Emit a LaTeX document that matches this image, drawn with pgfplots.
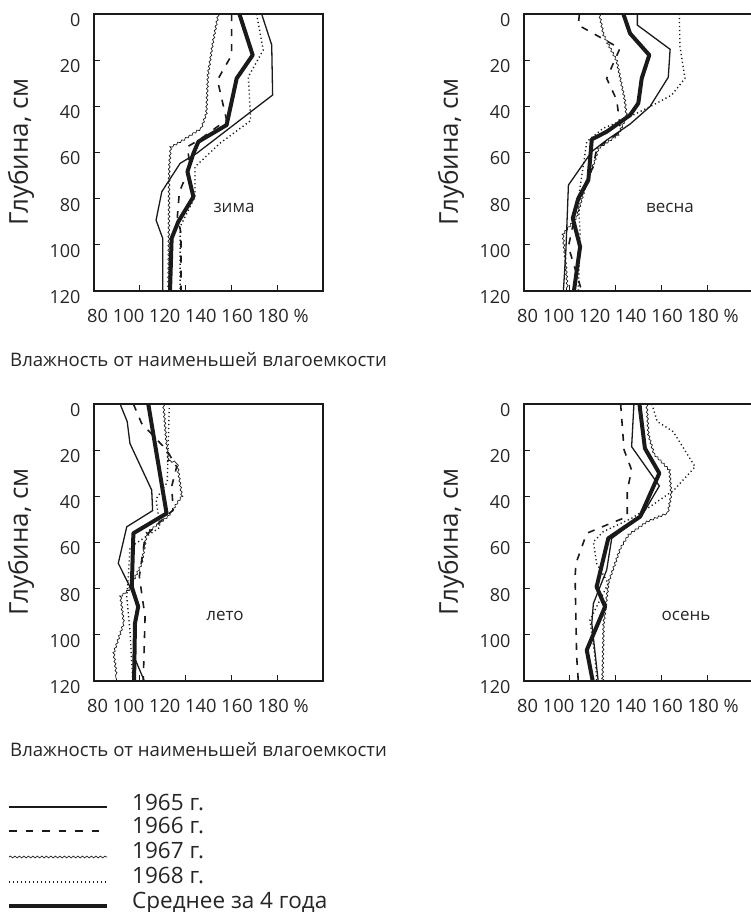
\documentclass[border=0pt]{standalone}
\usepackage{fontspec}
\setmainfont{Open Sans}
\usepackage{pgfplots}
\pgfplotsset{compat=1.18}
\usetikzlibrary{decorations.pathmorphing}

\definecolor{ink}{HTML}{1A1A1A}
\definecolor{txt}{HTML}{262626}

\tikzset{
  y65/.style={ink, line width=1.3pt},
  y66/.style={ink, line width=1.6pt, dash pattern=on 7pt off 8pt},
  y67/.style={ink, line width=0.7pt, decorate, decoration={snake, amplitude=0.9pt, segment length=4.5pt}},
  y68/.style={ink, line width=1.4pt, dash pattern=on 1.2pt off 2.8pt},
  ymean/.style={ink, line width=4pt, line join=round},
}

\pgfplotsset{
  panel/.style={
    scale only axis, width=229pt, height=277pt,
    xmin=80, xmax=180, ymin=0, ymax=120, y dir=reverse,
    xtick={100,120,140,160}, xticklabels={},
    ytick={0,20,40,60,80,100,120},
    tick align=inside, tick pos=left,
    major tick length=6pt,
    tick style={ink, line width=0.9pt},
    axis line style={ink, line width=2pt},
    /pgf/number format/assume math mode=true,
    yticklabel style={font=\fontsize{18}{20}\selectfont, text=txt, xshift=-10pt, yshift=-6pt},
    anchor=north west,
  },
}

\newcommand{\ticktext}{80 100 120 140 160 180 \%}
\newcommand{\depth}{Глубина, см}
\newcommand{\moist}{Влажность от наименьшей влагоемкости}

\begin{document}
\begin{tikzpicture}
\useasboundingbox (0,0) rectangle (751pt,-912pt);

% зима
\begin{axis}[panel, at={(94pt,-14pt)}]
\addplot[y65] coordinates {(153.2,0)(157.6,13.4)(158.0,35.1)(124.8,60.4)(117.6,64.7)(109.6,77.0)(107.1,89.3)(110.0,97.2)(110.0,120)};
\addplot[y66] coordinates {(140.1,0)(140.1,17.8)(133.9,28.6)(137.9,45.9)(126.3,54.3)(120.8,57.5)(121.9,66.2)(117.3,77.0)(116.4,87.8)(118.0,95.0)(118.0,120)};
\addplot[y67] coordinates {(134.3,0)(132.1,11.3)(129.9,25.7)(129.2,43.0)(127.0,49.5)(119.0,54.6)(113.9,57.5)(113.2,66.2)(112.9,120)};
\addplot[y68] coordinates {(151.0,0)(153.9,15.6)(147.4,27.2)(148.4,46.2)(135.0,56.0)(124.1,66.2)(124.1,79.2)(117.6,92.2)(117.6,120)};
\addplot[ymean] coordinates {(143.5,0)(149.3,17.8)(142.3,27.9)(137.9,48.1)(125.6,55.3)(123.4,60.4)(120.8,68.3)(123.4,79.2)(116.8,90.0)(113.9,97.2)(113.2,120)};
\end{axis}

% весна
\begin{axis}[panel, at={(524pt,-14pt)}]
\addplot[y65] coordinates {(129.5,0)(129.5,4.8)(143.8,15.3)(143.0,27.4)(135.0,40.1)(126.3,47.7)(116.1,54.6)(109.6,59.6)(99.4,74.1)(98.3,102.2)(97.2,120)};
\addplot[y66] coordinates {(104.2,0)(103.7,4.8)(121.9,14.9)(116.1,27.9)(120.5,37.3)(122.2,50.9)(111.7,58.2)(110.3,66.1)(107.4,71.9)(103.0,83.5)(99.4,100.8)(105.2,120)};
\addplot[y67] coordinates {(112.9,0)(114.6,8.4)(120.5,19.9)(124.1,37.3)(124.8,43.8)(121.2,51.7)(111.7,58.2)(110.3,63.2)(106.6,72.6)(102.3,87.8)(96.5,95.0)(97.9,109.5)(98.6,120)};
\addplot[y68] coordinates {(147.8,0)(148.1,14.1)(150.3,27.9)(144.5,35.1)(136.5,39.4)(123.4,45.9)(114.6,49.5)(107.4,55.3)(103.7,80.6)(104.5,95.0)(103.7,120)};
\addplot[ymean] coordinates {(123.4,0)(126.3,8.4)(134.7,17.8)(131.4,27.9)(129.9,38.7)(126.3,43.8)(116.1,51.0)(109.6,54.3)(108.1,71.9)(103.7,79.9)(101.3,88.5)(104.5,100.8)(101.8,120)};
\end{axis}

% лето
\begin{axis}[panel, at={(94pt,-404pt)}]
\addplot[y65] coordinates {(91.4,0)(94.5,7.6)(95.7,17.1)(105.2,37.3)(105.6,46.2)(94.3,53.2)(90.6,69.0)(95.7,79.2)(98.9,86.4)(97.5,109.5)(102.0,120)};
\addplot[y66] coordinates {(97.2,0)(100.8,8.4)(111.7,19.9)(116.1,27.2)(113.9,35.8)(114.6,45.9)(108.1,51.7)(102.3,57.5)(99.8,74.8)(102.3,92.2)(101.5,120)};
\addplot[y67] coordinates {(110.3,0)(111.4,14.2)(112.4,24.3)(116.1,25.0)(118.3,40.2)(112.4,48.8)(103.0,56.0)(100.8,69.0)(95.0,80.6)(91.4,83.5)(92.8,95.0)(88.4,108.0)(89.9,120)};
\addplot[y68] coordinates {(112.9,0)(112.0,33.9)(107.1,41.2)(108.8,53.4)(95.7,62.1)(95.0,74.8)(94.3,83.5)(95.7,97.9)(96.9,120)};
\addplot[ymean] coordinates {(103.7,0)(111.7,47.4)(97.2,56.0)(96.5,79.2)(99.3,87.8)(97.9,95.0)(97.5,120)};
\end{axis}

% осень
\begin{axis}[panel, at={(524pt,-404pt)}]
\addplot[y65] coordinates {(128.0,0)(127.0,18.5)(139.1,35.5)(131.4,48.5)(118.3,58.2)(116.1,71.9)(110.3,86.4)(109.6,95.0)(112.4,120)};
\addplot[y66] coordinates {(122.2,0)(123.7,19.9)(127.0,28.6)(125.1,37.3)(125.1,48.8)(116.1,52.4)(107.4,56.0)(102.7,69.0)(102.3,74.8)(103.0,109.5)(103.7,120)};
\addplot[y67] coordinates {(133.6,0)(134.3,12.7)(136.8,21.4)(143.8,28.6)(144.5,38.7)(143.0,46.7)(134.3,50.3)(126.3,56.0)(122.7,61.8)(117.6,76.3)(115.4,95.0)(114.9,120)};
\addplot[y68] coordinates {(135.8,0)(138.2,7.6)(145.2,12.0)(154.7,27.2)(145.5,37.3)(135.0,44.5)(127.0,49.5)(114.6,55.3)(110.3,59.7)(111.7,69.0)(116.8,77.7)(108.8,93.6)(111.0,109.5)(111.7,120)};
\addplot[ymean] coordinates {(130.4,0)(132.8,19.2)(139.1,30.0)(130.7,48.8)(116.8,58.2)(111.7,79.2)(115.4,87.8)(107.4,106.6)(110.0,120)};
\end{axis}

% подписи
\begin{scope}[every node/.style={text=txt, inner sep=0pt}]
\node[anchor=base west, font=\fontsize{18.3}{20}\selectfont] at (87pt,-322pt) {\ticktext};
\node[anchor=base west, font=\fontsize{18.3}{20}\selectfont] at (517pt,-322pt) {\ticktext};
\node[anchor=base west, font=\fontsize{18.3}{20}\selectfont] at (87pt,-712pt) {\ticktext};
\node[anchor=base west, font=\fontsize{18.3}{20}\selectfont] at (517pt,-712pt) {\ticktext};
\node[rotate=90, font=\fontsize{26}{28}\selectfont] at (21pt,-152pt) {\depth};
\node[rotate=90, font=\fontsize{26}{28}\selectfont] at (451pt,-152pt) {\depth};
\node[rotate=90, font=\fontsize{26}{28}\selectfont] at (21pt,-542pt) {\depth};
\node[rotate=90, font=\fontsize{26}{28}\selectfont] at (451pt,-542pt) {\depth};
\node[anchor=base west, font=\fontsize{18.6}{20}\selectfont] at (10pt,-366pt) {\moist};
\node[anchor=base west, font=\fontsize{18.6}{20}\selectfont] at (10pt,-756pt) {\moist};
\node[anchor=base, font=\fontsize{17}{20}\selectfont] at (234pt,-212pt) {зима};
\node[anchor=base, font=\fontsize{17}{20}\selectfont] at (670pt,-212pt) {весна};
\node[anchor=base, font=\fontsize{17}{20}\selectfont] at (225pt,-620pt) {лето};
\node[anchor=base, font=\fontsize{17}{20}\selectfont] at (686pt,-620pt) {осень};
% легенда
\draw[y65] (9pt,-807pt) -- (107pt,-807pt);
\draw[y66, dash pattern=on 7.5pt off 9pt] (9pt,-831pt) -- (107pt,-831pt);
\draw[y67] (9pt,-857pt) -- (107pt,-857pt);
\draw[y68] (9pt,-882pt) -- (107pt,-882pt);
\draw[ymean] (9pt,-906pt) -- (107pt,-906pt);
\node[anchor=base west, font=\fontsize{22.5}{24}\selectfont] at (132pt,-810pt) {1965 г.};
\node[anchor=base west, font=\fontsize{22.5}{24}\selectfont] at (132pt,-833pt) {1966 г.};
\node[anchor=base west, font=\fontsize{22.5}{24}\selectfont] at (132pt,-858pt) {1967 г.};
\node[anchor=base west, font=\fontsize{22.5}{24}\selectfont] at (132pt,-883pt) {1968 г.};
\node[anchor=base west, font=\fontsize{22.5}{24}\selectfont] at (132pt,-908pt) {Среднее за 4 года};
\end{scope}
\end{tikzpicture}
\end{document}
